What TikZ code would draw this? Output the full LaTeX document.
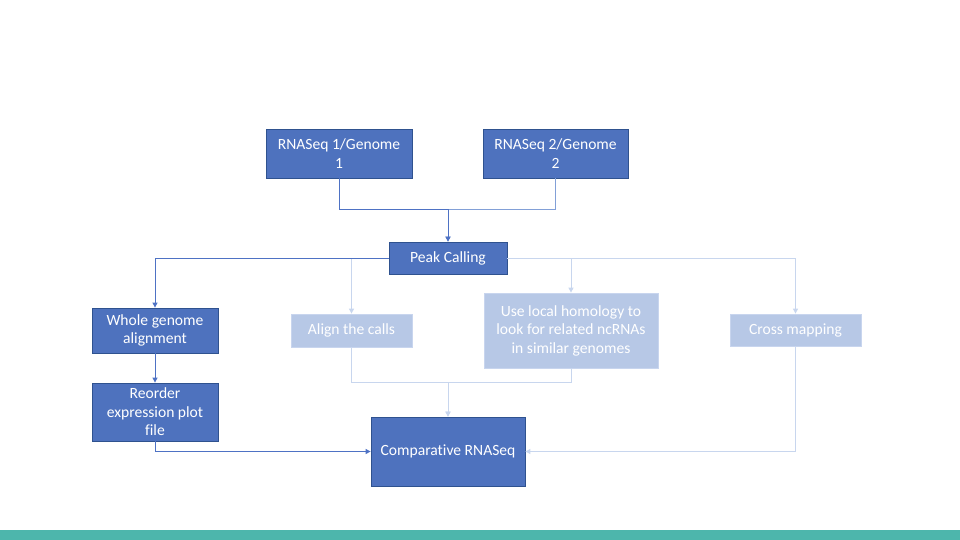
\documentclass[tikz,border=0pt]{standalone}
\usepackage{fontspec}
\setmainfont{Carlito}[Ligatures={NoCommon}]
\usetikzlibrary{arrows.meta}
\definecolor{dfill}{RGB}{78,114,190}
\definecolor{dborder}{RGB}{47,82,143}
\definecolor{lfill}{RGB}{183,200,230}
\definecolor{lborder}{RGB}{200,213,238}
\definecolor{dline}{RGB}{78,114,196}
\definecolor{mline}{RGB}{130,160,215}
\definecolor{lline}{RGB}{200,214,238}
\definecolor{teal}{RGB}{77,182,172}
\tikzset{
  boxbase/.style={rectangle, line width=0.8pt, text=white, align=center, inner sep=2pt, font=\fontsize{15.6}{18.5}\selectfont},
  darkbox/.style={boxbase, draw=dborder, fill=dfill},
  lightbox/.style={boxbase, draw=lborder, fill=lfill},
  tip/.style={-{Triangle[length=5pt,width=5pt]}},
  darkline/.style={draw=dline, line width=1pt, tip},
  midline/.style={draw=mline, line width=1pt, tip},
  lightline/.style={draw=lline, line width=1pt, tip},
}
\begin{document}
\begin{tikzpicture}[x=1pt,y=-1pt]
\useasboundingbox (0,0) rectangle (960,540);
\fill[teal] (0,530) rectangle (960,540);

\node[darkbox, minimum width=146, minimum height=49] (r1) at (339,153.5) {RNASeq 1/Genome\\1};
\node[darkbox, minimum width=145, minimum height=49] (r2) at (555.5,153.5) {RNASeq 2/Genome\\2};
\node[darkbox, minimum width=118, minimum height=32] (peak) at (448,258) {Peak Calling};
\node[darkbox, minimum width=126, minimum height=45] (whole) at (155,330.5) {Whole genome\\alignment};
\node[lightbox, minimum width=121, minimum height=33] (align) at (351.5,330.5) {Align the calls};
\node[lightbox, minimum width=174, minimum height=75] (use) at (571,330.5) {Use local homology to\\look for related ncRNAs\\in similar genomes};
\node[lightbox, minimum width=131, minimum height=32] (cross) at (795.5,330) {Cross mapping};
\node[darkbox, minimum width=126, minimum height=58] (reorder) at (155,412) {Reorder\\expression plot\\file};
\node[darkbox, minimum width=154, minimum height=69] (comp) at (448,451.5) {Comparative RNASeq};

\coordinate (j1) at (448,209);
\coordinate (j2) at (448,382);

\draw[midline] (r2.south) |- (j1) -- (peak.north);
\draw[darkline] (r1.south) |- (j1) -- (peak.north);

\draw[lightline] (peak.west) -| (align.north);
\draw[darkline] (peak.west) -| (whole.north);
\draw[lightline] (peak.east) -| (use.north);
\draw[lightline] (peak.east) -| (cross.north);

\draw[darkline] (whole.south) -- (reorder.north);
\draw[darkline] (reorder.south) |- (comp.west);
\draw[lightline] (align.south) |- (j2) -- (comp.north);
\draw[lightline] (use.south) |- (j2) -- (comp.north);
\draw[lightline] (cross.south) |- (comp.east);
\end{tikzpicture}
\end{document}
